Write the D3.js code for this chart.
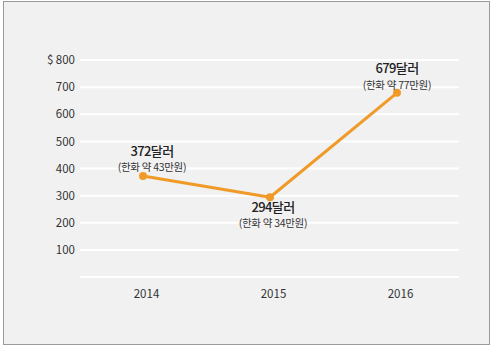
<!DOCTYPE html>
<html><head><meta charset="utf-8">
<script src="https://cdn.jsdelivr.net/npm/d3@7"></script>
<style>body{margin:0;background:#fff;}svg{display:block;font-family:"Noto Sans CJK KR","Noto Sans",sans-serif;}</style>
</head><body>
<svg id="c" width="493" height="349"></svg>
<script>
const years = ["2014", "2015", "2016"];
const values = [372, 294, 679];
const mainLabels = ["372달러", "294달러", "679달러"];
const subLabels = ["(한화 약 43만원)", "(한화 약 34만원)", "(한화 약 77만원)"];
const yTicks = [100, 200, 300, 400, 500, 600, 700, 800];
const gridTicks = [0, 100, 200, 300, 400, 500, 600, 700, 800];

const svg = d3.select("#c");
svg.append("rect").attr("x", 3.5).attr("y", 1.5).attr("width", 486).attr("height", 343)
  .attr("fill", "#f1f1f2").attr("stroke", "#9a9a9a").attr("stroke-width", 1);

const x = d3.scalePoint().domain(years).range([143, 397]);
const y = d3.scaleLinear().domain([0, 800]).range([277, 60]);

svg.append("g").selectAll("line").data(gridTicks).join("line")
  .attr("x1", 80).attr("x2", 459).attr("y1", d => y(d)).attr("y2", d => y(d))
  .attr("stroke", "#ffffff").attr("stroke-width", 2);

const yAxis = d3.axisLeft(y).tickValues(yTicks).tickSize(0).tickPadding(0)
  .tickFormat(d => d === 800 ? "$ 800" : String(d));
const gy = svg.append("g").attr("transform", "translate(75,0)").call(yAxis);
gy.select(".domain").remove();
gy.selectAll("text").attr("fill", "#333").style("font-size", "11.5px")
  .style("font-family", "'Noto Sans CJK KR', sans-serif");

const xAxis = d3.axisBottom(x).tickSize(0).tickPadding(0);
const gx = svg.append("g").attr("transform", "translate(3,290)").call(xAxis);
gx.select(".domain").remove();
gx.selectAll("text").attr("fill", "#333").style("font-size", "11.5px")
  .style("font-family", "'Noto Sans CJK KR', sans-serif");

const data = years.map((yr, i) => ({yr, v: values[i], m: mainLabels[i], s: subLabels[i]}));
const line = d3.line().x(d => x(d.yr)).y(d => y(d.v));
svg.append("path").datum(data).attr("d", line).attr("fill", "none")
  .attr("stroke", "#f09a28").attr("stroke-width", 3).attr("stroke-linejoin", "round");
svg.append("g").selectAll("circle").data(data).join("circle")
  .attr("cx", d => x(d.yr)).attr("cy", d => y(d.v)).attr("r", 4).attr("fill", "#f09a28");

const offs = [{m: -20, s: -5, dx: 9}, {m: 15, s: 30, dx: 3}, {m: -19.5, s: -4, dx: 0}];
const lab = svg.append("g").selectAll("g").data(data).join("g");
lab.append("text").attr("x", (d, i) => x(d.yr) + offs[i].dx).attr("y", (d, i) => y(d.v) + offs[i].m)
  .attr("text-anchor", "middle").attr("fill", "#222").style("font-size", "13px").style("font-weight", "500")
  .style("letter-spacing", "-0.6px").text(d => d.m);
lab.append("text").attr("x", (d, i) => x(d.yr) + offs[i].dx).attr("y", (d, i) => y(d.v) + offs[i].s)
  .attr("text-anchor", "middle").attr("fill", "#333").style("font-size", "10.5px")
  .style("letter-spacing", "-0.3px").text(d => d.s);
</script>
</body></html>
